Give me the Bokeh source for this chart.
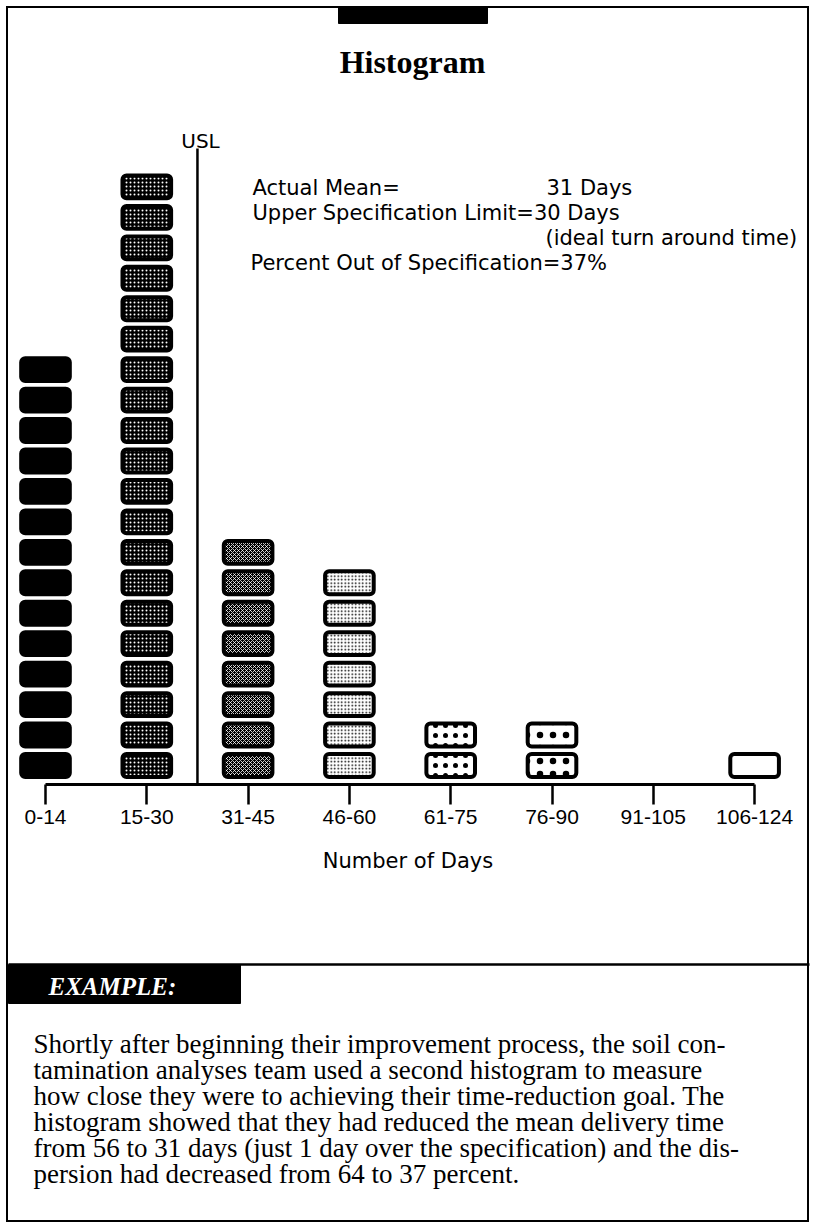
from bokeh.plotting import figure
from bokeh.layouts import column
from bokeh.models import (Range1d, LinearAxis, FixedTicker, Label, ColumnDataSource)
from bokeh.embed import file_html
from bokeh.resources import INLINE

# ---------------- data ----------------
categories = ["0-14", "15-30", "31-45", "46-60", "61-75", "76-90", "91-105", "106-124"]
counts = [14, 20, 8, 7, 2, 2, 0, 1]
usl_category = "15-30"          # upper specification limit = 30 days (end of this bin)
actual_mean_days = 31
usl_days = 30
percent_out = 37

title_text = "Histogram"
x_label = "Number of Days"
usl_text = "USL"
stat_left = ["Actual Mean=",
             f"Upper Specification Limit={usl_days} Days",
             f"Percent Out of Specification={percent_out}%"]
stat_right = [f"{actual_mean_days} Days", "(ideal turn around time)"]
example_title = "EXAMPLE:"
paragraph = [
    "Shortly after beginning their improvement process, the soil con-",
    "tamination analyses team used a second histogram to measure",
    "how close they were to achieving their time-reduction goal. The",
    "histogram showed that they had reduced the mean delivery time",
    "from 56 to 31 days (just 1 day over the specification) and the dis-",
    "persion had decreased from 64 to 37 percent.",
]

# ---------------- styles per bin ----------------
fills = ["black", "black", "black", "white", "white", "white", "white", "white"]
hatches = [" ", "dot", "diagonal_cross", "dot", "dot", "dot", " ", " "]
hatch_colors = ["black", "white", "white", "black", "black", "black", "black", "black"]
hatch_scales = [6, 4, 4, 3.5, 10, 13, 6, 6]
hatch_weights = [1, 1.0, 0.8, 1.3, 2.2, 6, 1, 1]

# ---------------- page geometry ----------------
PAGE_W, PAGE_H = 815, 1228
TOP_H = 905               # height of the chart part (frame + axis panel)
X0, DX = 45.0, 101.3      # pixel of bin 0, pixels per bin
Y0, DY = 784.0, 30.45     # pixel of count 0 (axis line), pixels per count


def dx(px):
    return (px - X0) / DX


def dy(py):
    return (Y0 - py) / DY


p = figure(width=PAGE_W, height=TOP_H, output_backend="svg", toolbar_location=None,
           x_axis_location=None, y_axis_location=None,
           x_range=Range1d(dx(0), dx(PAGE_W)), y_range=Range1d(0, dy(0)),
           min_border_left=0, min_border_right=0, min_border_top=0,
           min_border_bottom=int(TOP_H - Y0))
p.grid.visible = False
p.outline_line_color = None
p.background_fill_color = None
p.border_fill_color = None

# ---------------- blocks (one per observation) ----------------
inset_b = 0.25
blk_h = 0.75
rows = dict(x=[], bottom=[], top=[], fill=[], hatch=[], hcol=[], hscale=[], hweight=[])
for i, c in enumerate(counts):
    for j in range(c):
        rows["x"].append(i)
        rows["bottom"].append(j + inset_b)
        rows["top"].append(j + inset_b + blk_h)
        rows["fill"].append(fills[i])
        rows["hatch"].append(hatches[i])
        rows["hcol"].append(hatch_colors[i])
        rows["hscale"].append(hatch_scales[i])
        rows["hweight"].append(hatch_weights[i])
src = ColumnDataSource(rows)
p.vbar(x="x", bottom="bottom", top="top", width=0.48, source=src,
       fill_color="fill", line_color="black", line_width=4,
       hatch_pattern="hatch", hatch_color="hcol", hatch_scale="hscale",
       hatch_weight="hweight", border_radius=4)

# ---------------- USL line ----------------
usl_x = categories.index(usl_category) + 0.5
p.segment(x0=[usl_x], y0=[0], x1=[usl_x], y1=[dy(148)], line_color="black", line_width=2.5)

# top tab on the frame border
p.quad(left=[dx(338)], right=[dx(487)], top=[dy(7)], bottom=[dy(23)],
       fill_color="black", line_color="black")

# ---------------- x axis ----------------
xaxis = LinearAxis(ticker=FixedTicker(ticks=list(range(len(categories)))),
                   major_label_overrides={i: c for i, c in enumerate(categories)},
                   bounds=(0, len(categories) - 1),
                   axis_line_width=3, axis_line_color="black",
                   major_tick_out=20, major_tick_in=0, major_tick_line_width=2.5,
                   major_tick_line_color="black",
                   minor_tick_out=0, minor_tick_in=0,
                   major_label_text_font="Liberation Sans", major_label_text_font_size="21px",
                   major_label_text_color="black", major_label_standoff=5,
                   axis_label=x_label, axis_label_text_font="DejaVu Sans",
                   axis_label_text_font_style="normal", axis_label_text_font_size="21px",
                   axis_label_text_color="black", axis_label_standoff=22)
p.add_layout(xaxis, "below")


def label(fig, x, y, text, font="DejaVu Sans", size="21px", style="normal", align="left",
          color="black"):
    fig.add_layout(Label(x=x, y=y, text=text, text_font=font, text_font_size=size,
                         text_font_style=style, text_align=align, text_baseline="alphabetic",
                         text_color=color))


label(p, dx(412), dy(61), title_text, font="Liberation Serif", size="32px", style="bold",
      align="center")
label(p, dx(200), dy(140), usl_text, size="20px", align="center")
label(p, dx(252), dy(187), stat_left[0])
label(p, dx(546), dy(187), stat_right[0])
label(p, dx(252), dy(212), stat_left[1])
label(p, dx(545), dy(237), stat_right[1])
label(p, dx(250), dy(262), stat_left[2])

# ---------------- example panel (page pixel coordinates) ----------------
q = figure(width=PAGE_W, height=PAGE_H - TOP_H, output_backend="svg", toolbar_location=None,
           x_axis_location=None, y_axis_location=None,
           x_range=Range1d(0, PAGE_W), y_range=Range1d(PAGE_H, TOP_H),
           min_border_left=0, min_border_right=0, min_border_top=0, min_border_bottom=0)
q.grid.visible = False
q.outline_line_color = None
q.background_fill_color = None
q.border_fill_color = None

q.segment(x0=[8], y0=[964], x1=[809], y1=[964], line_color="black", line_width=2.5)
q.quad(left=[8], right=[240], top=[964], bottom=[1003], fill_color="black", line_color="black")
label(q, 48, 986, example_title, font="Liberation Serif", size="25px", style="bold italic",
      color="white")
for k, line in enumerate(paragraph):
    label(q, 33, 1043 + 26.0 * k, line, font="Liberation Serif", size="27px")

page = column(p, q, spacing=0,
              styles={"outline": "2.5px solid black", "outline-offset": "-8px"})

open("out.html", "w").write(file_html(page, INLINE))
